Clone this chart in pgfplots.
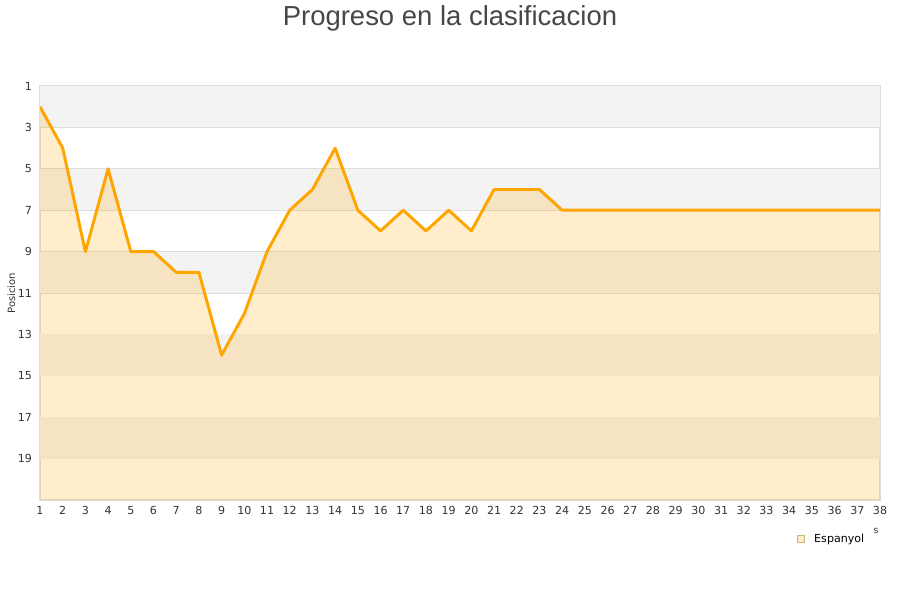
\documentclass[border=0pt]{standalone}
\usepackage{pgfplots}
\pgfplotsset{compat=1.18}
\usepackage{fontspec}
\setmainfont{DejaVu Sans}
\newfontfamily\titlefont{Liberation Sans}
\definecolor{band}{HTML}{F3F3F3}
\definecolor{lineor}{HTML}{FFA500}
\definecolor{txt}{HTML}{333333}
\definecolor{gridc}{HTML}{DDDDDD}
\begin{document}
\begin{tikzpicture}
\useasboundingbox (-30pt,-75pt) rectangle (645pt,375pt);
\begin{axis}[
  at={(0,0)}, anchor=south west,
  scale only axis, width=630pt, height=310.5pt,
  xmin=1, xmax=38, ymin=1, ymax=21,
  y dir=reverse,
  xtick={1,...,38}, ytick={1,3,...,19},
  tick style={draw=none},
  ymajorgrids, grid style={gridc, line width=0.6pt},
  axis line style={draw=gridc, line width=0.8pt},
  ticklabel style={font=\fontsize{8.3}{9}\selectfont, text=txt},
  /pgf/number format/assume math mode=true,
  xticklabel style={yshift=-1pt},
  yticklabel style={xshift=-2.5pt},
  legend style={at={(0.901,-0.094)}, anchor=west, draw=none, fill=none, font=\fontsize{8.3}{9}\selectfont, inner sep=0pt},
  legend image code/.code={\draw[draw=lineor!60!black!50, fill=lineor!22, line width=0.4pt] (0pt,-2.6pt) rectangle (5.2pt,2.6pt);},
  legend cell align=left,
  clip=true,
]
\fill[band] (axis cs:1,1) rectangle (axis cs:38,3);
\fill[band] (axis cs:1,5) rectangle (axis cs:38,7);
\fill[band] (axis cs:1,9) rectangle (axis cs:38,11);
\fill[band] (axis cs:1,13) rectangle (axis cs:38,15);
\fill[band] (axis cs:1,17) rectangle (axis cs:38,19);
\addplot[fill=lineor, fill opacity=0.2, draw=none, forget plot] coordinates {
(1,21) (1,2) (2,4) (3,9) (4,5) (5,9) (6,9) (7,10) (8,10) (9,14) (10,12) (11,9) (12,7) (13,6) (14,4) (15,7) (16,8) (17,7) (18,8) (19,7) (20,8) (21,6) (22,6) (23,6) (24,7) (25,7) (26,7) (27,7) (28,7) (29,7) (30,7) (31,7) (32,7) (33,7) (34,7) (35,7) (36,7) (37,7) (38,7) (38,21)};
\addplot[lineor, line width=2.2pt, line join=round] coordinates {
(1,2) (2,4) (3,9) (4,5) (5,9) (6,9) (7,10) (8,10) (9,14) (10,12) (11,9) (12,7) (13,6) (14,4) (15,7) (16,8) (17,7) (18,8) (19,7) (20,8) (21,6) (22,6) (23,6) (24,7) (25,7) (26,7) (27,7) (28,7) (29,7) (30,7) (31,7) (32,7) (33,7) (34,7) (35,7) (36,7) (37,7) (38,7)};
\addlegendentry{\hspace{5.25pt}Espanyol}
\end{axis}
\node[font=\titlefont\fontsize{20.6}{24}\selectfont, text=txt!90!white] at (307.5pt,361.5pt) {Progreso en la clasificacion};
\node[font=\fontsize{7.5}{8}\selectfont, text=txt, rotate=90] at (-21.5pt,155pt) {Posicion};
\node[font=\fontsize{7}{8}\selectfont, text=txt] at (627pt,-23pt) {s};
\end{tikzpicture}
\end{document}
